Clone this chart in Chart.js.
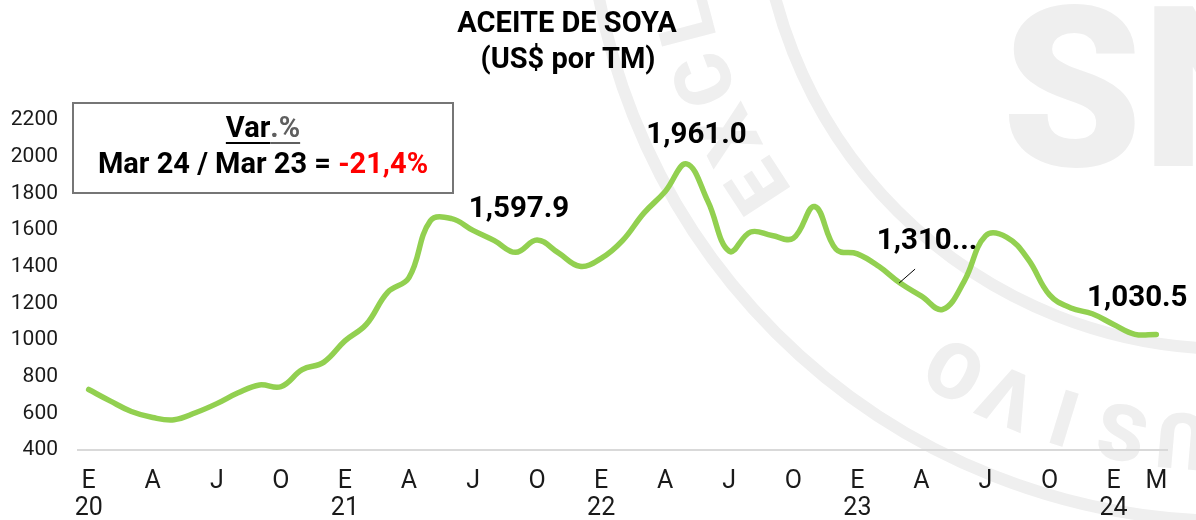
<!DOCTYPE html>
<html lang="es">
<head>
<meta charset="utf-8">
<title>Aceite de soya</title>
<script src="https://cdn.jsdelivr.net/npm/chart.js@4.4.1/dist/chart.umd.min.js"></script>
<style>
  html, body { margin: 0; padding: 0; background: #fff; }
  #contenedor { width: 1196px; height: 520px; position: relative; }
</style>
</head>
<body>
<div id="contenedor"><canvas id="grafico"></canvas></div>
<script>
// --- DATOS ---
const periodos = [
    'Ene-20', 'Feb-20', 'Mar-20', 'Abr-20', 'May-20', 'Jun-20', 'Jul-20', 'Ago-20', 'Sep-20', 'Oct-20', 'Nov-20', 'Dic-20',
    'Ene-21', 'Feb-21', 'Mar-21', 'Abr-21', 'May-21', 'Jun-21', 'Jul-21', 'Ago-21', 'Sep-21', 'Oct-21', 'Nov-21', 'Dic-21',
    'Ene-22', 'Feb-22', 'Mar-22', 'Abr-22', 'May-22', 'Jun-22', 'Jul-22', 'Ago-22', 'Sep-22', 'Oct-22', 'Nov-22', 'Dic-22',
    'Ene-23', 'Feb-23', 'Mar-23', 'Abr-23', 'May-23', 'Jun-23', 'Jul-23', 'Ago-23', 'Sep-23', 'Oct-23', 'Nov-23', 'Dic-23',
    'Ene-24', 'Feb-24', 'Mar-24'
];

// US$ por TM
const precios = [
    730, 668, 610, 577, 565, 603, 653, 712, 755, 745, 838, 878,
    995, 1085, 1260, 1340, 1650, 1662, 1597.9, 1542, 1478, 1545, 1475, 1402,
    1445, 1542, 1692, 1810, 1961.0, 1756, 1484, 1589, 1570, 1555, 1728, 1495,
    1470, 1402, 1310.4, 1239, 1167, 1320, 1568, 1560, 1440, 1246, 1175, 1143,
    1085, 1031, 1030.5
];

const inicialesMes = ['E', 'F', 'M', 'A', 'M', 'J', 'J', 'A', 'S', 'O', 'N', 'D'];
const mesesEje = [0, 3, 6, 9];          // E, A, J, O
const ticksY = [400, 600, 800, 1000, 1200, 1400, 1600, 1800, 2000, 2200];

// puntos con valor rotulado; el de marzo 23 sale recortado
const puntosRotulados = [18, 28, 38, 50];
const puntosRecortados = [38];

const iActual = precios.length - 1;     // Mar 24
const iAnterior = iActual - 12;         // Mar 23

// --- FORMATOS ---
const fmtValor = (v) => v.toLocaleString('en-US', { minimumFractionDigits: 1, maximumFractionDigits: 1 });

const etiquetaEje = (i) => {
    const [mes, anio] = periodos[i].split('-');
    const m = ['Ene', 'Feb', 'Mar', 'Abr', 'May', 'Jun', 'Jul', 'Ago', 'Sep', 'Oct', 'Nov', 'Dic'].indexOf(mes);
    if (m === 0) return [inicialesMes[m], anio];
    if (mesesEje.includes(m) || i === iActual) return inicialesMes[m];
    return '';
};

const FUENTE = "Roboto, 'Liberation Sans', sans-serif";
const VERDE = '#92D050';
const MARCA_AGUA = '#efefef';

// --- PLUGINS ---
// sello de fondo: dos anillos, texto circular y siglas
const selloFondo = {
    id: 'selloFondo',
    beforeDraw(chart) {
        const ctx = chart.ctx;
        const cx = 1230, cy = -121;
        ctx.save();
        ctx.strokeStyle = MARCA_AGUA;
        ctx.lineWidth = 12;
        ctx.beginPath();
        ctx.arc(cx, cy, 470, 0, Math.PI * 2);
        ctx.stroke();
        ctx.beginPath();
        ctx.arc(cx, cy, 642, 0, Math.PI * 2);
        ctx.stroke();

        ctx.fillStyle = MARCA_AGUA;
        ctx.font = `900 78px ${FUENTE}`;
        ctx.textAlign = 'center';
        ctx.textBaseline = 'middle';
        const palabra = 'EXCLUSIVO';
        const paso = 6.1;
        [70.5, 146.9].forEach(inicio => {
            [...palabra].forEach((letra, k) => {
                const ang = (inicio + k * paso) * Math.PI / 180;
                ctx.save();
                ctx.translate(cx + 556 * Math.cos(ang), cy + 556 * Math.sin(ang));
                ctx.rotate(ang + Math.PI / 2);
                ctx.fillText(letra, 0, 0);
                ctx.restore();
            });
        });

        ctx.font = `900 224px ${FUENTE}`;
        ctx.textAlign = 'left';
        ctx.textBaseline = 'alphabetic';
        ctx.fillText('SNI', 1002, 166);
        ctx.restore();
    }
};

const titulo = {
    id: 'titulo',
    afterDraw(chart) {
        const ctx = chart.ctx;
        ctx.save();
        ctx.fillStyle = '#000';
        ctx.font = `bold 29px ${FUENTE}`;
        ctx.textAlign = 'center';
        ctx.textBaseline = 'middle';
        ctx.fillText('ACEITE DE SOYA', 567, 25);
        ctx.fillText('(US$ por TM)', 568, 61);
        ctx.restore();
    }
};

// cuadro con la variación anual
const cuadroVariacion = {
    id: 'cuadroVariacion',
    afterDraw(chart) {
        const ctx = chart.ctx;
        const variacion = (precios[iActual] / precios[iAnterior] - 1) * 100;
        const txtVar = (variacion > 0 ? '+' : '') + variacion.toFixed(1).replace('.', ',') + '%';
        const x0 = 73, y0 = 103, w = 380, h = 90, centro = x0 + w / 2;

        ctx.save();
        ctx.fillStyle = '#fff';
        ctx.fillRect(x0, y0, w, h);
        ctx.strokeStyle = '#767676';
        ctx.lineWidth = 2;
        ctx.strokeRect(x0, y0, w, h);

        ctx.textBaseline = 'middle';
        ctx.textAlign = 'left';

        // "Var.%" subrayado
        ctx.font = `bold 29px ${FUENTE}`;
        const a = ctx.measureText('Var').width;
        const b = ctx.measureText('.%').width;
        let x = centro - (a + b) / 2;
        const yv = 130;
        ctx.fillStyle = '#000';
        ctx.fillText('Var', x, yv);
        ctx.fillRect(x, yv + 12, a, 2);
        ctx.fillStyle = '#5f5f5f';
        ctx.fillText('.%', x + a, yv);
        ctx.fillRect(x + a, yv + 12, b, 2);

        // "Mar 24 / Mar 23 = -21,4%"
        ctx.font = `bold 29px ${FUENTE}`;
        const izq = 'Mar 24 / Mar 23 = ';
        const c = ctx.measureText(izq).width;
        const d = ctx.measureText(txtVar).width;
        x = centro - (c + d) / 2;
        ctx.fillStyle = '#000';
        ctx.fillText(izq, x, 166);
        ctx.fillStyle = '#ff0000';
        ctx.fillText(txtVar, x + c, 166);
        ctx.restore();
    }
};

// rótulos de valor sobre la línea
const rotulos = {
    id: 'rotulos',
    afterDatasetsDraw(chart) {
        const ctx = chart.ctx;
        const meta = chart.getDatasetMeta(0);
        const desplaz = { 18: [46, -21], 28: [10, -28], 38: [27, -41], 50: [-19, -36] };
        ctx.save();
        ctx.font = `bold 29.5px ${FUENTE}`;
        ctx.fillStyle = '#000';
        ctx.textAlign = 'center';
        ctx.textBaseline = 'middle';
        puntosRotulados.forEach(i => {
            const p = meta.data[i];
            const [dx, dy] = desplaz[i];
            let txt = fmtValor(precios[i]);
            if (puntosRecortados.includes(i)) {
                txt = txt.split('.')[0] + '...';
                ctx.strokeStyle = '#000';
                ctx.lineWidth = 1;
                ctx.beginPath();
                ctx.moveTo(p.x - 1, p.y);
                ctx.lineTo(p.x + 15, p.y - 14);
                ctx.stroke();
            }
            ctx.fillText(txt, p.x + dx, p.y + dy);
        });
        ctx.restore();
    }
};

// --- GRÁFICO ---
new Chart(document.getElementById('grafico'), {
    type: 'line',
    data: {
        labels: periodos,
        datasets: [{
            label: 'Aceite de soya',
            data: precios,
            borderColor: VERDE,
            borderWidth: 5.5,
            borderCapStyle: 'round',
            borderJoinStyle: 'round',
            pointRadius: 0,
            tension: 0.4,
            fill: false
        }]
    },
    options: {
        responsive: true,
        maintainAspectRatio: false,
        animation: false,
        events: [],
        layout: { padding: { top: 120, right: 29, left: 0, bottom: 0 } },
        plugins: {
            legend: { display: false },
            title: { display: false },
            tooltip: { enabled: false }
        },
        scales: {
            x: {
                offset: true,
                grid: { display: false, drawTicks: false },
                border: { display: true, color: '#d9d9d9', width: 2 },
                ticks: {
                    autoSkip: false,
                    maxRotation: 0,
                    padding: 19,
                    color: '#1a1a1a',
                    font: { family: FUENTE, size: 25, lineHeight: 1.05 },
                    callback: (v, i) => etiquetaEje(i)
                },
                afterFit: (s) => { s.height = 70; }
            },
            y: {
                min: ticksY[0],
                max: ticksY[ticksY.length - 1],
                grid: { display: false, drawTicks: false },
                border: { display: false },
                afterBuildTicks: (s) => { s.ticks = ticksY.map(v => ({ value: v })); },
                ticks: {
                    padding: 20,
                    color: '#1a1a1a',
                    font: { family: FUENTE, size: 21 },
                    callback: (v) => v
                },
                afterFit: (s) => { s.width = 78; }
            }
        }
    },
    plugins: [selloFondo, titulo, cuadroVariacion, rotulos]
});
</script>
</body>
</html>
